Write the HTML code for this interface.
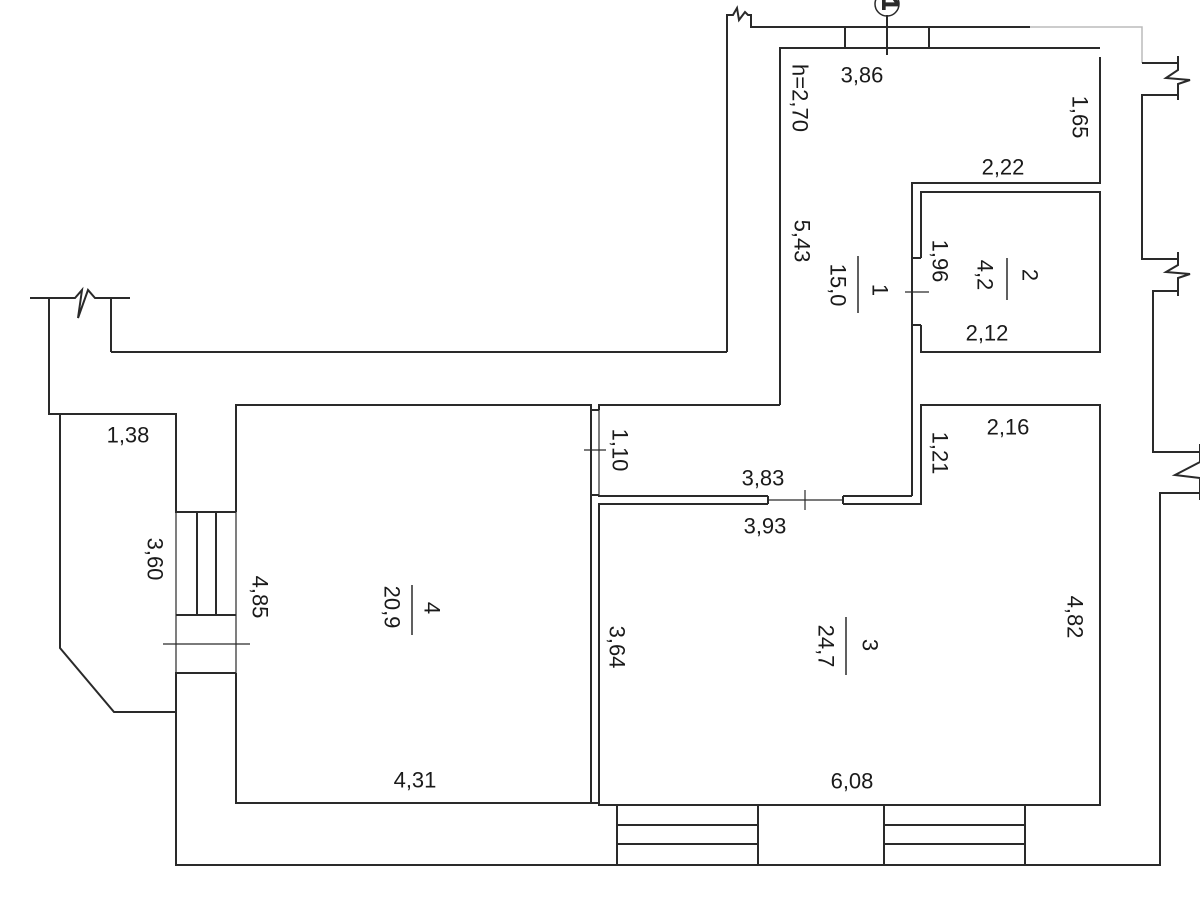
<!DOCTYPE html>
<html><head><meta charset="utf-8"><style>
html,body{margin:0;padding:0;background:#fff;}
svg{display:block;}
text{font-family:"Liberation Sans",sans-serif;font-size:22px;fill:#1a1a1a;}
</style></head><body>
<svg width="1200" height="900" viewBox="0 0 1200 900" xmlns="http://www.w3.org/2000/svg">
<g fill="none" stroke="#2a2a2a" stroke-width="2">
<polyline points="727,352 727,15 733,15 737,8 739,20 745,12 748,15 751,15 751,27 845,27"/>
<polyline points="111,352 727,352"/>
<rect x="845" y="27" width="84" height="21"/>
<polyline points="929,27 1030,27"/>
<polyline stroke="#bbb" stroke-width="1.5" points="1030,27 1142,27 1142,63"/>
<polyline points="780,405 780,48 845,48"/>
<polyline points="929,48 1100,48"/>
<line x1="887" y1="15" x2="887" y2="55"/>
<circle cx="887" cy="4" r="12" stroke-width="1.5"/>
<text x="889" y="10" font-size="14" transform="rotate(90 889 4)" text-anchor="middle">1</text>
<polyline points="1100,57 1100,183 912,183 912,496"/>
<line x1="912" y1="258" x2="921" y2="258"/>
<line x1="912" y1="325" x2="921" y2="325"/>
<polyline points="921,258 921,192 1100,192 1100,352 921,352 921,325"/>
<line x1="905" y1="292" x2="929" y2="292" stroke-width="1.2"/>
<polyline points="1142,63 1178,63"/>
<polyline points="1178,56 1178,70 1166,78 1190,80 1178,84 1178,100"/>
<polyline points="1178,95 1142,95 1142,259 1178,259"/>
<polyline points="1178,252 1178,265 1166,272 1190,274 1178,278 1178,296"/>
<polyline points="1178,291 1153,291 1153,452 1200,452"/>
<polyline points="1200,444 1200,462 1175,475 1200,478 1200,500"/>
<polyline points="1200,493 1160,493 1160,865 1025,865"/>
<polyline points="599,410 599,405 780,405"/>
<polyline points="599,495 599,496 768,496"/>
<polyline points="843,496 912,496"/>
<polyline points="591,410 591,405"/>
<line x1="591" y1="410" x2="599" y2="410"/>
<line x1="591" y1="495" x2="599" y2="495"/>
<line x1="591" y1="410" x2="591" y2="495" stroke-width="1.2"/>
<line x1="599" y1="410" x2="599" y2="495" stroke-width="1.2"/>
<line x1="584" y1="450" x2="606" y2="450" stroke-width="1.2"/>
<polyline points="768,504 599,504 599,805 1100,805 1100,405 921,405 921,504 843,504"/>
<line x1="768" y1="496" x2="768" y2="504"/>
<line x1="843" y1="496" x2="843" y2="504"/>
<line x1="768" y1="500" x2="843" y2="500" stroke-width="1.2"/>
<line x1="805" y1="490" x2="805" y2="510" stroke-width="1.2"/>
<polyline points="236,512 236,405 591,405 591,803 236,803 236,673"/>
<line x1="591" y1="803" x2="599" y2="803"/>
<polyline points="30,298 75,298 82,290 78,318 88,290 95,298 130,298"/>
<polyline points="49,298 49,414 176,414 176,512 236,512"/>
<polyline points="111,298 111,352"/>
<polyline points="60,414 60,648 114,712 176,712"/>
<line x1="176" y1="512" x2="176" y2="673" stroke-width="1.2"/>
<line x1="236" y1="512" x2="236" y2="673" stroke-width="1.2"/>
<line x1="197" y1="512" x2="197" y2="615"/>
<line x1="216" y1="512" x2="216" y2="615"/>
<line x1="176" y1="615" x2="236" y2="615"/>
<line x1="163" y1="644" x2="250" y2="644" stroke-width="1.2"/>
<polyline points="236,673 176,673 176,865 617,865"/>
<polyline points="617,805 617,865 758,865 758,805"/>
<line x1="617" y1="825" x2="758" y2="825"/>
<line x1="617" y1="844" x2="758" y2="844"/>
<polyline points="758,865 884,865"/>
<polyline points="884,805 884,865 1025,865 1025,805"/>
<line x1="884" y1="825" x2="1025" y2="825"/>
<line x1="884" y1="844" x2="1025" y2="844"/>
<line x1="858" y1="256" x2="858" y2="313" stroke-width="1.5"/>
<line x1="1007" y1="258" x2="1007" y2="300" stroke-width="1.5"/>
<line x1="412" y1="585" x2="412" y2="635" stroke-width="1.5"/>
<line x1="846" y1="617" x2="846" y2="675" stroke-width="1.5"/>
</g>
<g text-anchor="middle" dominant-baseline="central">
<text x="862" y="75">3,86</text>
<text x="1003" y="167">2,22</text>
<text x="987" y="333">2,12</text>
<text x="128" y="435">1,38</text>
<text x="415" y="780">4,31</text>
<text x="763" y="478">3,83</text>
<text x="765" y="526">3,93</text>
<text x="1008" y="427">2,16</text>
<text x="852" y="781">6,08</text>
<text transform="translate(800,98) rotate(90)">h=2,70</text>
<text transform="translate(1080,117) rotate(90)">1,65</text>
<text transform="translate(802,241) rotate(90)">5,43</text>
<text transform="translate(838,285) rotate(90)">15,0</text>
<text transform="translate(880,290) rotate(90)">1</text>
<text transform="translate(940,261) rotate(90)">1,96</text>
<text transform="translate(985,275) rotate(90)">4,2</text>
<text transform="translate(1030,275) rotate(90)">2</text>
<text transform="translate(155,559) rotate(90)">3,60</text>
<text transform="translate(260,597) rotate(90)">4,85</text>
<text transform="translate(392,607) rotate(90)">20,9</text>
<text transform="translate(432,608) rotate(90)">4</text>
<text transform="translate(620,450) rotate(90)">1,10</text>
<text transform="translate(940,453) rotate(90)">1,21</text>
<text transform="translate(617,647) rotate(90)">3,64</text>
<text transform="translate(826,646) rotate(90)">24,7</text>
<text transform="translate(870,645) rotate(90)">3</text>
<text transform="translate(1075,617) rotate(90)">4,82</text>
</g>
</svg>
</body></html>
